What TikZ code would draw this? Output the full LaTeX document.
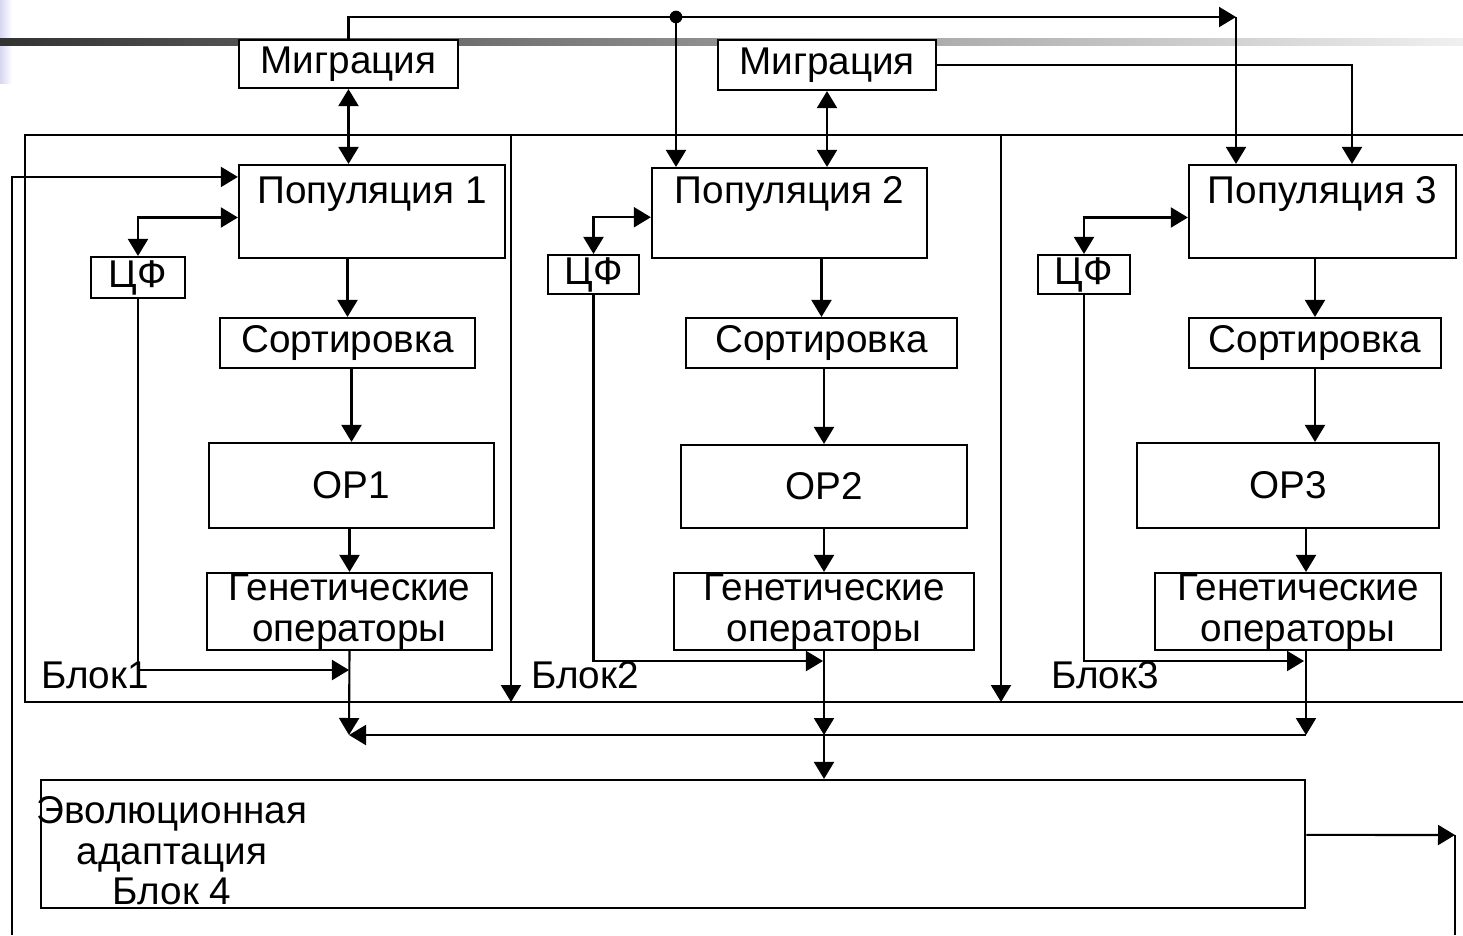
\documentclass[tikz,border=0pt]{standalone}
\usepackage{fontspec}
\setmainfont{Liberation Sans}
\usetikzlibrary{arrows.meta}
\definecolor{lavender}{RGB}{214,214,242}
\begin{document}
\begin{tikzpicture}[x=0.01cm,y=-0.01cm,line width=0.6pt,
  >={Triangle[length=0.17cm,width=0.2cm]},
  every node/.style={font=\fontsize{11}{11.5}\selectfont},
  box/.style={draw,fill=white,inner sep=0pt,align=center},
  arr/.style={->},
  dbl/.style={<->}]
\useasboundingbox (0,0) rectangle (1463,935);
% slide background
\shade[left color=lavender,right color=white] (0,0) rectangle (12,83);
\shade[left color=black!80,right color=black!6] (0,38) rectangle (1463,45);
% outer frame of the three blocks
\coordinate (fTL) at (25,135);
\coordinate (fBL) at (25,702);
\path[draw] (1463,135) -- (fTL) -- (fBL) -- (1463,702);
\coordinate (d1) at (511,135);
\coordinate (d2) at (1001,135);
\path[draw,arr] (d1) -- (511,702);
\path[draw,arr] (d2) -- (1001,702);
% boxes
\node[box,minimum width=2.19cm,minimum height=0.48cm] (mig1) at (348.5,64) {Миграция};
\node[box,minimum width=2.18cm,minimum height=0.50cm] (mig2) at (827,65) {Миграция};
\node[box,minimum width=2.66cm,minimum height=0.93cm,label={[anchor=north]north:Популяция 1}] (pop1) at (372,211.5) {};
\node[box,minimum width=2.75cm,minimum height=0.90cm,label={[anchor=north,yshift=0.03cm]north:Популяция 2}] (pop2) at (789.5,213) {};
\node[box,minimum width=2.67cm,minimum height=0.93cm,label={[anchor=north]north:Популяция 3}] (pop3) at (1322.5,211.5) {};
\node[box,minimum width=0.94cm,minimum height=0.41cm] (cf1) at (138,277.5) {ЦФ};
\node[box,minimum width=0.91cm,minimum height=0.39cm] (cf2) at (593.5,274.5) {ЦФ};
\node[box,minimum width=0.92cm,minimum height=0.39cm] (cf3) at (1084,274.5) {ЦФ};
\node[box,minimum width=2.55cm,minimum height=0.50cm] (sort1) at (347.5,343) {Сортировка};
\node[box,minimum width=2.71cm,minimum height=0.50cm] (sort2) at (821.5,343) {Сортировка};
\node[box,minimum width=2.52cm,minimum height=0.50cm] (sort3) at (1315,343) {Сортировка};
\node[box,minimum width=2.85cm,minimum height=0.85cm] (op1) at (351.5,485.5) {ОР1};
\node[box,minimum width=2.86cm,minimum height=0.83cm] (op2) at (824,486.5) {ОР2};
\node[box,minimum width=3.02cm,minimum height=0.85cm] (op3) at (1288,485.5) {ОР3};
\node[box,minimum width=2.85cm,minimum height=0.77cm] (gen1) at (349.5,611.5) {Генетические\\операторы};
\node[box,minimum width=3.00cm,minimum height=0.77cm] (gen2) at (824,611.5) {Генетические\\операторы};
\node[box,minimum width=2.86cm,minimum height=0.77cm] (gen3) at (1298,611.5) {Генетические\\операторы};
\node[box,minimum width=12.64cm,minimum height=1.28cm,
  label={[anchor=west,align=center,inner sep=0pt,xshift=-0.04cm,yshift=-0.07cm]west:Эволюционная\\адаптация\\Блок 4}] (evo) at (673,844) {};
\node[anchor=west,inner sep=0pt] (blk1) at (40,675) {Блок1};
\node[anchor=west,inner sep=0pt] (blk2) at (530,675) {Блок2};
\node[anchor=west,inner sep=0pt] (blk3) at (1050,675) {Блок3};
% migration links
\coordinate (split) at (676,17);
\coordinate (topR) at (1236,17);
\coordinate (m2r) at (1352,65);
\path[draw,arr] (mig1.north) |- (topR);
\fill (split) circle (1.8pt);
\path[draw,arr] (split) -- (split |- pop2.north);
\path[draw,arr] (topR) -- (topR |- pop3.north);
\path[draw,arr] (mig2.east) -| (m2r |- pop3.north);
\path[draw,dbl] (mig1.south) -- (mig1.south |- pop1.north);
\path[draw,dbl] (mig2.south) -- (mig2.south |- pop2.north);
% fitness function links
\path[draw,dbl] (cf1.north) |- ([yshift=-1.7pt]pop1.west);
\path[draw,dbl] (cf2.north) |- ([yshift=-1.2pt]pop2.west);
\path[draw,dbl] (cf3.north) |- ([yshift=-1.7pt]pop3.west);
% inside each block
\path[draw,arr] (sort1.north |- pop1.south) -- (sort1.north);
\path[draw,arr] (sort2.north |- pop2.south) -- (sort2.north);
\path[draw,arr] (sort3.north |- pop3.south) -- (sort3.north);
\path[draw,arr] (op1.north |- sort1.south) -- (op1.north);
\path[draw,arr] (op2.north |- sort2.south) -- (op2.north);
\path[draw,arr] (sort3.south) -- (sort3.south |- op3.north);
\path[draw,arr] (gen1.north |- op1.south) -- (gen1.north);
\path[draw,arr] (gen2.north |- op2.south) -- (gen2.north);
\coordinate (c1) at (349,735);
\coordinate (c2) at (824,735);
\coordinate (c3) at (1306,735);
\path[draw,arr] (c3 |- op3.south) -- (c3 |- gen3.north);
\coordinate (j1) at (349,670);
\coordinate (j2) at (823,661);
\coordinate (j3) at (1304,661);
\path[draw,arr] (cf1.south) |- (j1);
\path[draw,arr] (cf2.south) |- (j2);
\path[draw,arr] (cf3.south) |- (j3);
% collecting the blocks
\path[draw,arr] (gen1.south) -- (c1);
\path[draw,arr] (gen2.south) -- (c2);
\path[draw,arr] (c3 |- gen3.south) -- (c3);
\path[draw,arr] (c3) -- (c1);
\path[draw,arr] (c2) -- (c2 |- evo.north);
% feedback loop
\coordinate (fbR) at (1455,835);
\coordinate (fbRend) at (1455,935);
\coordinate (fbLend) at (12,935);
\path[draw,arr] ([yshift=2.6pt]evo.east) -- (fbR);
\path[draw] (fbR) -- (fbRend);
\path[draw,arr] (fbLend) |- ([yshift=-3.7pt]pop1.north west);
\end{tikzpicture}
\end{document}
